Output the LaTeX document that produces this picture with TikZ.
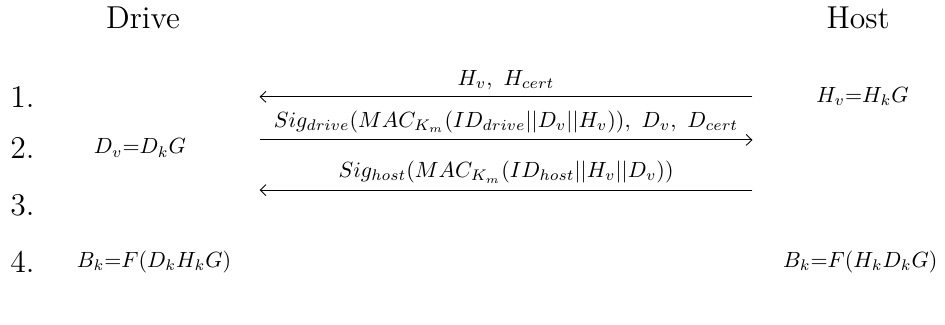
\documentclass[tikz,border=0pt]{standalone}
\usetikzlibrary{arrows.meta}
\begin{document}
\begin{tikzpicture}[x=1pt,y=1pt,line width=0.4pt]
\tikzset{party/.style={inner sep=0pt,font=\Large},stepno/.style={anchor=west,inner sep=0pt,font=\Large},calc/.style={inner sep=0pt},msg/.style={-{Straight Barb[length=2.6pt,width=5pt]},draw=black},msglabel/.style={above=3pt,inner sep=0pt}}
\useasboundingbox (0,0) rectangle (429.5,147.3);
\node[party] (drive) at (65,139.0) {Drive};
\node[party] (host) at (390,139.0) {Host};
\node[stepno] (s1) at (4.5,103.3) {1.};
\node[stepno] (s2) at (4.5,80.0) {2.};
\node[stepno] (s3) at (4.5,54.0) {3.};
\node[stepno] (s4) at (4.5,28.3) {4.};
\node[calc] (hv) at (392,103.3) {$H_v{=}H_kG$};
\node[calc] (dv) at (63.6,80.0) {$D_v{=}D_kG$};
\node[calc] (bkd) at (70,28.3) {$B_k{=}F(D_kH_kG)$};
\node[calc] (bkh) at (391,28.3) {$B_k{=}F(H_kD_kG)$};
\coordinate (m1l) at (118,103.3);
\coordinate (m1r) at (342,103.3);
\coordinate (m2l) at (118,83.7);
\coordinate (m2r) at (342,83.7);
\coordinate (m3l) at (118,60.9);
\coordinate (m3r) at (342,60.9);
\draw[msg] (m1r) -- (m1l) node[midway,msglabel] (l1) {$H_v,\ H_{cert}$};
\draw[msg] (m2l) -- (m2r) node[midway,msglabel] (l2) {$Sig_{drive}(MAC_{K_m}(ID_{drive}||D_v||H_v)),\ D_v,\ D_{cert}$};
\draw[msg] (m3r) -- (m3l) node[midway,msglabel] (l3) {$Sig_{host}(MAC_{K_m}(ID_{host}||H_v||D_v))$};
\end{tikzpicture}
\end{document}
